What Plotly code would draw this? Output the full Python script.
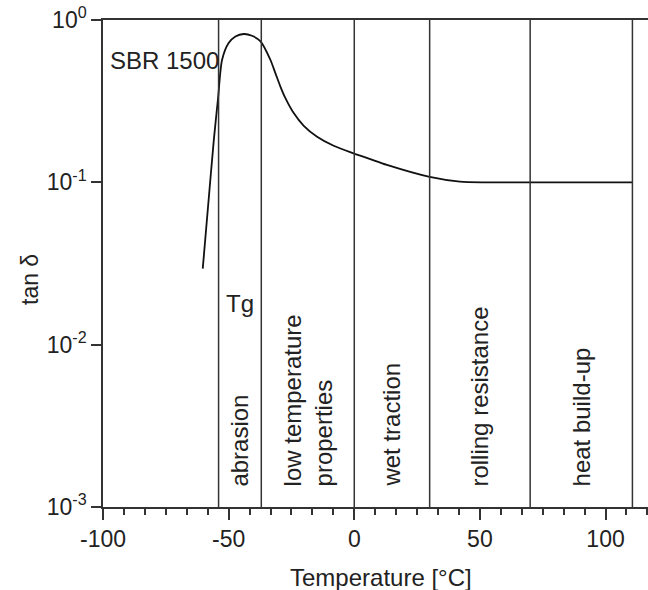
import plotly.graph_objects as go

# ---- data ----
temperature = [-60.3, -58.2, -55.9, -54.2, -52.6, -50.0, -47.3, -44.0, -40.7, -37.3,
               -33.4, -31.4, -29.4, -27.4, -24.1, -20.1, -14.8, -8.2, -0.3, 6.4,
               13.0, 30.0, 42.0, 53.0, 70.0, 90.0, 110.7]
tan_delta = [0.0294, 0.0707, 0.182, 0.33, 0.569, 0.721, 0.792, 0.82, 0.80, 0.738,
             0.569, 0.471, 0.389, 0.330, 0.267, 0.223, 0.191, 0.168, 0.151, 0.139,
             0.128, 0.108, 0.101, 0.100, 0.100, 0.100, 0.100]
region_bounds = [-54, -37, 0, 30, 70, 110.7]
region_labels = ["abrasion", "low temperature<br>properties", "wet traction",
                 "rolling resistance", "heat build-up"]
x_tickvals = [-100, -50, 0, 50, 100]
x_ticktext = ["-100", "-50", "0", "50", "100"]
y_tickvals = [0.001, 0.01, 0.1, 1]
y_ticktext = ["10<sup>-3</sup>", "10<sup>-2</sup>", "10<sup>-1</sup>", "10<sup>0</sup>"]

FONT = "Liberation Sans, Arial, sans-serif"
INK = "#222222"

fig = go.Figure()
fig.add_trace(go.Scatter(x=temperature, y=tan_delta, mode="lines",
                         line=dict(color="#111111", width=1.8, shape="spline", smoothing=0.8),
                         showlegend=False, hoverinfo="skip"))

for xb in region_bounds:
    fig.add_shape(type="line", x0=xb, x1=xb, y0=0, y1=1, xref="x", yref="paper",
                  line=dict(color="#333333", width=1.5))

for i, lab in enumerate(region_labels):
    xm = (region_bounds[i] + region_bounds[i + 1]) / 2
    fig.add_annotation(x=xm, y=-2.887, xref="x", yref="y", text=lab, textangle=-90,
                       showarrow=False, xanchor="center", yanchor="bottom", align="left",
                       font=dict(family=FONT, size=24, color=INK))

fig.add_annotation(x=-98.2, y=-0.251, xref="x", yref="y", text="SBR 1500", showarrow=False,
                   xanchor="left", yanchor="middle", font=dict(family=FONT, size=24, color=INK))
fig.add_annotation(x=-45.3, y=-1.745, xref="x", yref="y", text="Tg", showarrow=False,
                   xanchor="center", yanchor="middle", font=dict(family=FONT, size=24, color=INK))

L, R, T, B = 103, 0, 20, 83
W, H = 648, 590
pw, ph = W - L - R, H - T - B

def px_to_paper(px, py):
    return (px - L) / pw, (H - B - py) / ph

ax, ay = px_to_paper(30, 280)
fig.add_annotation(x=ax, y=ay, xref="paper", yref="paper", text="tan δ", showarrow=False,
                   textangle=-90, xanchor="center", yanchor="middle",
                   font=dict(family=FONT, size=23, color=INK))
ax, ay = px_to_paper(381, 577)
fig.add_annotation(x=ax, y=ay, xref="paper", yref="paper", text="Temperature [°C]",
                   showarrow=False, xanchor="center", yanchor="middle",
                   font=dict(family=FONT, size=24, color=INK))

fig.update_layout(
    width=W, height=H, margin=dict(l=L, r=R, t=T, b=B, autoexpand=False),
    paper_bgcolor="white", plot_bgcolor="white",
    font=dict(family=FONT, size=23, color=INK),
    xaxis=dict(range=[-100, 116.9], tickvals=x_tickvals, ticktext=x_ticktext,
               ticks="outside", ticklen=11, tickwidth=1.5, tickcolor="#333333",
               minor=dict(dtick=50 / 6, tick0=-100, ticks="outside", ticklen=6,
                          tickwidth=1.5, tickcolor="#333333", showgrid=False),
               showline=True, linecolor="#333333", linewidth=1.5, mirror=True,
               showgrid=False, zeroline=False, tickfont=dict(size=23),
               ticklabeloverflow="allow", automargin=False),
    yaxis=dict(type="log", range=[-3, 0], tickvals=y_tickvals, ticktext=y_ticktext,
               ticks="outside", ticklen=10, tickwidth=1.5, tickcolor="#333333",
               showline=True, linecolor="#333333", linewidth=1.5, mirror=False,
               showgrid=False, zeroline=False, tickfont=dict(size=23),
               ticklabeloverflow="allow", automargin=False),
)

fig.write_html("out.html", config={"displayModeBar": False},
               post_script="document.body.style.margin='0';")
